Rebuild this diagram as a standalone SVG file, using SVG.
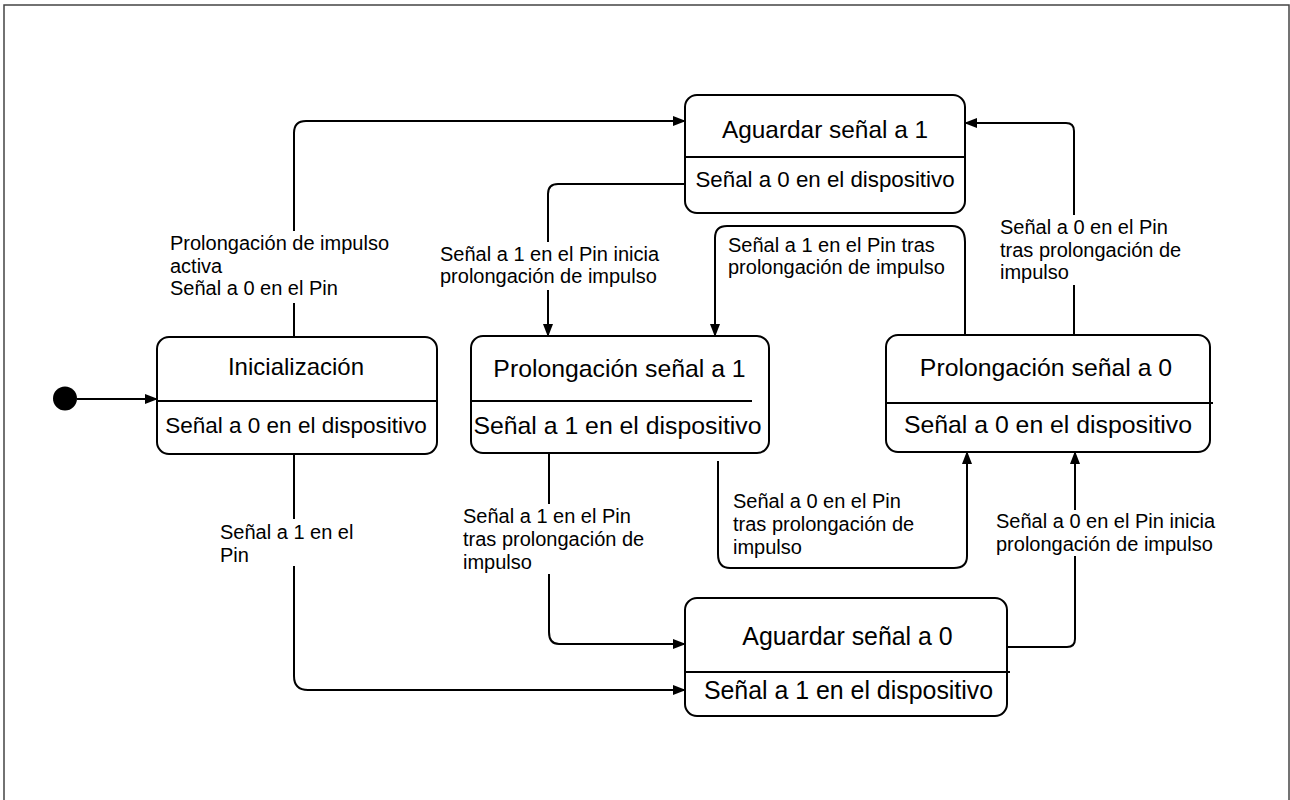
<svg xmlns="http://www.w3.org/2000/svg" width="1290" height="800" viewBox="0 0 1290 800">
  <style>
    .state { fill: #ffffff; stroke: #000000; stroke-width: 2; }
    .divider { stroke: #000000; stroke-width: 2; fill: none; }
    .title { font-family: "Liberation Sans", Arial, sans-serif; text-anchor: middle; fill: #000000; }
    .edge { fill: none; stroke: #000000; stroke-width: 2; }
    .label { font-family: "Liberation Sans", Arial, sans-serif; font-size: 20px; fill: #000000; }
    .label-bg { fill: #ffffff; }
  </style>
  <defs>
    <marker id="arrow" markerUnits="userSpaceOnUse" viewBox="0 0 13 10" refX="12" refY="5" markerWidth="13" markerHeight="10" orient="auto">
      <path d="M0,0 L13,5 L0,10 z" fill="#000000"/>
    </marker>
  </defs>

  <!-- page frame -->
  <rect x="4" y="5" width="1285" height="810" fill="#ffffff" stroke="#444444" stroke-width="1.5"/>

  <!-- transitions -->
  <g id="connectors">
    <path class="edge" d="M77,399 H157" marker-end="url(#arrow)"/>
    <path class="edge" d="M294,337 V133 Q294,121 306,121 H685" marker-end="url(#arrow)"/>
    <path class="edge" d="M685,184 H558 Q548,184 548,194 V336" marker-end="url(#arrow)"/>
    <path class="edge" d="M965,335 V242 Q965,226 952,226 H727 Q715,226 715,238 V336" marker-end="url(#arrow)"/>
    <path class="edge" d="M1074,335 V131 Q1074,123 1066,123 H965" marker-end="url(#arrow)"/>
    <path class="edge" d="M549,453 V632 Q549,644 559,644 H685" marker-end="url(#arrow)"/>
    <path class="edge" d="M294,454 V676 Q294,690 308,690 H685" marker-end="url(#arrow)"/>
    <path class="edge" d="M718,461 V554 Q718,568 730,568 H954 Q967,568 967,556 V452" marker-end="url(#arrow)"/>
    <path class="edge" d="M1007,647 H1067 Q1075,647 1075,639 V452" marker-end="url(#arrow)"/>

    <!-- transition labels -->
    <g id="label-activa">
      <rect class="label-bg" x="168" y="231" width="224" height="72"/>
      <text class="label" x="170" y="250">Prolongación de impulso</text>
      <text class="label" x="170" y="272.5">activa</text>
      <text class="label" x="170" y="295">Señal a 0 en el Pin</text>
    </g>
    <g id="label-inicia-1">
      <rect class="label-bg" x="438" y="242" width="222" height="48"/>
      <text class="label" x="440" y="261">Señal a 1 en el Pin inicia</text>
      <text class="label" x="440" y="283">prolongación de impulso</text>
    </g>
    <g id="label-tras-1-top">
      <text class="label" x="728" y="251.5">Señal a 1 en el Pin tras</text>
      <text class="label" x="728" y="273.5">prolongación de impulso</text>
    </g>
    <g id="label-tras-0-top">
      <rect class="label-bg" x="998" y="215" width="204" height="70"/>
      <text class="label" x="1000" y="234">Señal a 0 en el Pin</text>
      <text class="label" x="1000" y="256.5">tras prolongación de</text>
      <text class="label" x="1000" y="279">impulso</text>
    </g>
    <g id="label-pin-1">
      <rect class="label-bg" x="218" y="519" width="138" height="47"/>
      <text class="label" x="220" y="539">Señal a 1 en el</text>
      <text class="label" x="220" y="561.5">Pin</text>
    </g>
    <g id="label-tras-1-bottom">
      <rect class="label-bg" x="461" y="504" width="192" height="70"/>
      <text class="label" x="463" y="523">Señal a 1 en el Pin</text>
      <text class="label" x="463" y="546">tras prolongación de</text>
      <text class="label" x="463" y="569">impulso</text>
    </g>
    <g id="label-tras-0-bottom">
      <text class="label" x="733" y="508">Señal a 0 en el Pin</text>
      <text class="label" x="733" y="531">tras prolongación de</text>
      <text class="label" x="733" y="553.5">impulso</text>
    </g>
    <g id="label-inicia-0">
      <rect class="label-bg" x="994" y="510" width="224" height="46"/>
      <text class="label" x="996" y="528">Señal a 0 en el Pin inicia</text>
      <text class="label" x="996" y="551">prolongación de impulso</text>
    </g>
  </g>

  <!-- initial pseudo-state -->
  <g id="initial">
    <circle cx="65" cy="398.5" r="12" fill="#000000"/>
  </g>

  <g id="inicializacion">
    <rect class="state" x="157" y="337" width="280" height="117" rx="12" ry="12"/>
    <line class="divider" x1="157" y1="401" x2="437" y2="401"/>
    <text class="title" x="296" y="375" font-size="24">Inicialización</text>
    <text class="title" x="296" y="433" font-size="22.5">Señal a 0 en el dispositivo</text>
  </g>

  <g id="aguardar-1">
    <rect class="state" x="685" y="95" width="280" height="118" rx="12" ry="12"/>
    <line class="divider" x1="685" y1="157" x2="965" y2="157"/>
    <text class="title" x="825" y="138" font-size="24.4">Aguardar señal a 1</text>
    <text class="title" x="825" y="187" font-size="22.3">Señal a 0 en el dispositivo</text>
  </g>

  <g id="prolongacion-1">
    <rect class="state" x="471" y="336" width="298" height="117" rx="12" ry="12"/>
    <line class="divider" x1="471" y1="401" x2="752" y2="401"/>
    <text class="title" x="619.5" y="377" font-size="24.8">Prolongación señal a 1</text>
    <text class="title" x="617.5" y="434" font-size="24.8">Señal a 1 en el dispositivo</text>
  </g>

  <g id="prolongacion-0">
    <rect class="state" x="886" y="335" width="324" height="117" rx="12" ry="12"/>
    <line class="divider" x1="886" y1="403" x2="1213" y2="403"/>
    <text class="title" x="1046" y="376" font-size="24.8">Prolongación señal a 0</text>
    <text class="title" x="1048" y="433" font-size="24.8">Señal a 0 en el dispositivo</text>
  </g>

  <g id="aguardar-0">
    <rect class="state" x="685" y="598" width="322" height="118" rx="12" ry="12"/>
    <line class="divider" x1="685" y1="672" x2="1010" y2="672"/>
    <text class="title" x="847.5" y="645" font-size="24.9">Aguardar señal a 0</text>
    <text class="title" x="848.5" y="699" font-size="24.9">Señal a 1 en el dispositivo</text>
  </g>
</svg>
